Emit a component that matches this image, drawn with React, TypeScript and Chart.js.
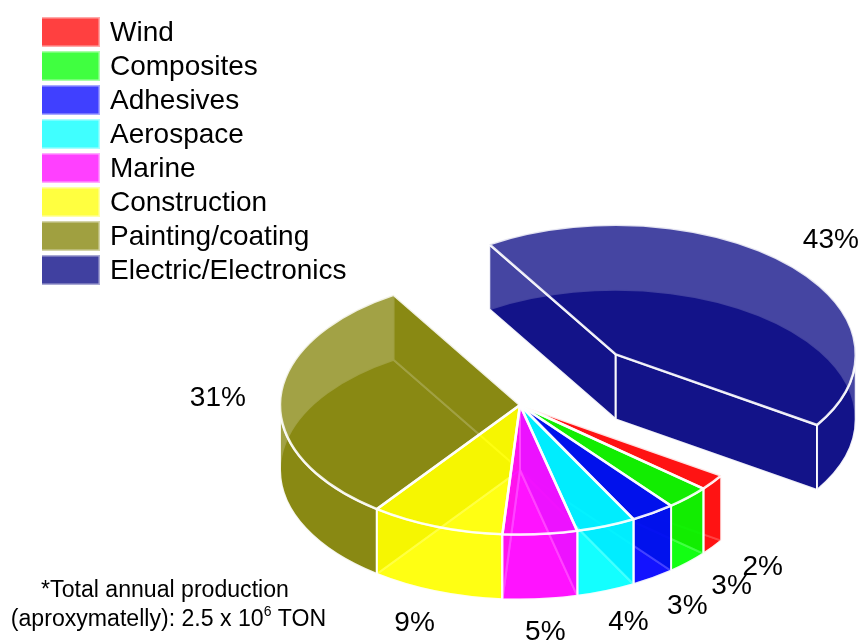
import React, { useEffect, useRef } from "react";
import { Chart, registerables } from "chart.js";

Chart.register(...registerables);

const categories = ["Wind", "Composites", "Adhesives", "Aerospace", "Marine", "Construction", "Painting/coating", "Electric/Electronics"];
const shares = [2, 3, 3, 4, 5, 9, 31, 43];
const baseColors = ["255,0,0", "0,255,0", "0,0,255", "0,255,255", "255,0,255", "255,255,0", "128,128,0", "0,0,128"];
const explodeBy = [0, 0, 0, 0, 0, 0, 0, 134];
const noteLine1 = "*Total annual production";
const noteLine2 = ["(aproxymatelly): 2.5 x 10", "6", " TON"];

const FONT = '"Liberation Sans", Arial, sans-serif';
const CX = 520, CY = 405, R = 240, SQUASH = 0.54, DEPTH = 65, ALPHA = 0.73;
const fillOf = (i: number) => `rgba(${baseColors[i]},${ALPHA})`;

function swatch(i: number) {
  const c = document.createElement("canvas");
  c.width = 64;
  c.height = 32;
  const g = c.getContext("2d") as CanvasRenderingContext2D;
  g.fillStyle = `rgba(${baseColors[i]},0.75)`;
  g.fillRect(0, 0, 60, 30);
  g.strokeStyle = "rgba(255,255,255,0.55)";
  g.lineWidth = 1.5;
  g.strokeRect(0.75, 0.75, 58.5, 28.5);
  return c;
}

function geometry(arc: any, i: number) {
  const mid = (arc.startAngle + arc.endAngle) / 2;
  const ox = CX + Math.cos(mid) * explodeBy[i];
  const oy = CY + Math.sin(mid) * explodeBy[i] * SQUASH;
  return { mid, ox, oy, a0: arc.startAngle, a1: arc.endAngle, r: arc.outerRadius };
}

const piePlugin = {
  id: "pie3d",
  beforeDatasetDraw(chart: any, args: any) {
    const ctx = chart.ctx;
    const arcs = chart.getDatasetMeta(args.index).data;
    const order = arcs.map((_: any, i: number) => i).sort((p: number, q: number) => {
      const gp = geometry(arcs[p], p), gq = geometry(arcs[q], q);
      return Math.sin(gp.mid) - Math.sin(gq.mid);
    });
    ctx.save();
    ctx.lineJoin = "round";
    // bottom faces and walls, back to front
    for (const i of order) {
      const g = geometry(arcs[i], i);
      const ry = g.r * SQUASH;
      const px = (a: number) => g.ox + Math.cos(a) * g.r;
      const py = (a: number) => g.oy + Math.sin(a) * ry;
      ctx.fillStyle = fillOf(i);
      ctx.strokeStyle = "rgba(255,255,255,0.9)";
      ctx.lineWidth = 2;
      // bottom face
      ctx.beginPath();
      ctx.moveTo(g.ox, g.oy + DEPTH);
      ctx.ellipse(g.ox, g.oy + DEPTH, g.r, ry, 0, g.a0, g.a1);
      ctx.closePath();
      ctx.fill();
      ctx.stroke();
      // radial walls
      for (const a of [g.a0, g.a1]) {
        ctx.beginPath();
        ctx.moveTo(g.ox, g.oy);
        ctx.lineTo(px(a), py(a));
        ctx.lineTo(px(a), py(a) + DEPTH);
        ctx.lineTo(g.ox, g.oy + DEPTH);
        ctx.closePath();
        ctx.fill();
        ctx.stroke();
      }
      // outer wall: only the half that faces the viewer
      let s = g.a0, e = g.a1;
      const TAU = Math.PI * 2;
      const k = Math.floor(s / TAU);
      s -= k * TAU; e -= k * TAU;
      const spans: number[][] = [];
      if (s < Math.PI) spans.push([s, Math.min(e, Math.PI)]);
      if (e > TAU) spans.push([TAU, Math.min(e, TAU + Math.PI)]);
      for (const [u, v] of spans) {
        ctx.beginPath();
        ctx.ellipse(g.ox, g.oy, g.r, ry, 0, u, v);
        ctx.ellipse(g.ox, g.oy + DEPTH, g.r, ry, 0, v, u, true);
        ctx.closePath();
        ctx.fill();
        ctx.stroke();
      }
    }
    // top faces, drawn by the arc elements themselves
    arcs.forEach((arc: any, i: number) => {
      const g = geometry(arc, i);
      ctx.save();
      ctx.translate(g.ox, g.oy);
      ctx.scale(1, SQUASH);
      ctx.translate(-arc.x, -arc.y);
      arc.draw(ctx);
      ctx.restore();
    });
    // top outlines
    ctx.strokeStyle = "rgba(255,255,255,0.85)";
    ctx.lineWidth = 2.5;
    arcs.forEach((arc: any, i: number) => {
      const g = geometry(arc, i);
      ctx.beginPath();
      ctx.moveTo(g.ox, g.oy);
      ctx.ellipse(g.ox, g.oy, g.r, g.r * SQUASH, 0, g.a0, g.a1);
      ctx.closePath();
      ctx.stroke();
    });
    ctx.restore();
    return false;
  },
  afterDatasetsDraw(chart: any) {
    const ctx = chart.ctx;
    const arcs = chart.getDatasetMeta(0).data;
    ctx.save();
    ctx.fillStyle = "#000";
    ctx.font = `28px ${FONT}`;
    ctx.textAlign = "center";
    ctx.textBaseline = "middle";
    arcs.forEach((arc: any, i: number) => {
      const g = geometry(arc, i);
      const far = (g.r * 1.26) - explodeBy[i] * 0.01;
      const front = Math.sin(g.mid) > 0 ? DEPTH : 0;
      ctx.fillText(`${shares[i]}%`, g.ox + Math.cos(g.mid) * far, g.oy + Math.sin(g.mid) * far * SQUASH + front);
    });
    // footnote
    const big = `23.1px ${FONT}`, small = `14px ${FONT}`;
    ctx.font = big;
    ctx.textBaseline = "alphabetic";
    ctx.fillText(noteLine1, 165, 597);
    const w0 = ctx.measureText(noteLine2[0]).width;
    const w2 = ctx.measureText(noteLine2[2]).width;
    ctx.font = small;
    const w1 = ctx.measureText(noteLine2[1]).width;
    let x = 168.5 - (w0 + w1 + w2) / 2;
    ctx.textAlign = "left";
    ctx.font = big;
    ctx.fillText(noteLine2[0], x, 626);
    x += w0;
    ctx.font = small;
    ctx.fillText(noteLine2[1], x, 616);
    x += w1;
    ctx.font = big;
    ctx.fillText(noteLine2[2], x, 626);
    ctx.restore();
  },
};

export default function App() {
  const ref = useRef<HTMLCanvasElement>(null);
  useEffect(() => {
    const chart = new Chart(ref.current as HTMLCanvasElement, {
      type: "pie",
      data: {
        labels: categories,
        datasets: [{
          data: shares,
          backgroundColor: baseColors.map((_, i) => fillOf(i)),
          borderWidth: 0,
          radius: R,
        } as any],
      },
      options: {
        animation: false,
        responsive: false,
        devicePixelRatio: 1,
        rotation: 123,
        layout: { padding: { left: 42, top: 13 } },
        plugins: {
          tooltip: { enabled: false },
          legend: {
            position: "left",
            align: "start",
            labels: {
              usePointStyle: true,
              pointStyleWidth: 48,
              boxHeight: 28,
              padding: 6,
              color: "#000",
              font: { family: FONT, size: 28 },
              generateLabels: () => categories.map((text, i) => ({
                text,
                fillStyle: fillOf(i),
                strokeStyle: fillOf(i),
                pointStyle: swatch(i),
                lineWidth: 0,
                hidden: false,
                index: i,
              })),
            },
          },
        },
      },
      plugins: [piePlugin],
    } as any);
    return () => chart.destroy();
  }, []);
  return (
    <div style={{ position: "absolute", left: 0, top: 0, width: 859, height: 640, background: "#fff" }}>
      <canvas ref={ref} width={859} height={640} style={{ display: "block" }} />
    </div>
  );
}
